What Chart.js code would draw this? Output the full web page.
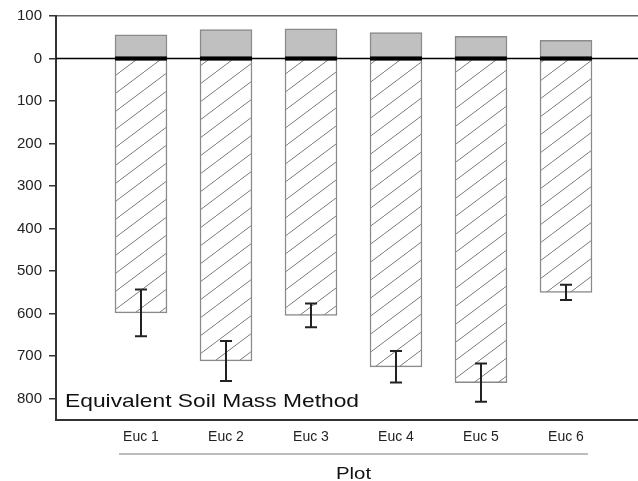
<!DOCTYPE html>
<html>
<head>
<meta charset="utf-8">
<script src="https://cdn.jsdelivr.net/npm/chart.js@4/dist/chart.umd.min.js"></script>
<style>
  body { margin: 0; background: #fff; }
  canvas { display: block; }
</style>
</head>
<body>
<canvas id="soilChart" width="638" height="481"></canvas>
<script>
// data
var plots = ['Euc 1', 'Euc 2', 'Euc 3', 'Euc 4', 'Euc 5', 'Euc 6']
var positions = [1, 2, 3, 4, 5, 6]
var upper_values = [56, 68, 70, 61, 52, 43]
var lower_values = [-598, -711, -604, -725, -762, -550]
var lower_errors = [55, 47, 28, 37, 45, 18]
var y_ticks = [100, 0, -100, -200, -300, -400, -500, -600, -700, -800]

var label_text = 'Equivalent Soil Mass Method'
var axis_title = 'Plot'

function make_hatch() {
    var c = document.createElement('canvas')
    c.width = 24
    c.height = 18
    var g = c.getContext('2d')
    g.fillStyle = '#fff'
    g.fillRect(0, 0, 24, 18)
    g.strokeStyle = '#7a7a7a'
    g.lineWidth = 1
    g.beginPath()
    g.moveTo(-2, 19.5)
    g.lineTo(26, -1.5)
    g.stroke()
    return g.createPattern(c, 'repeat')
}

function stretched_text(ctx, text, x, y, font, align) {
    ctx.save()
    ctx.font = font
    ctx.fillStyle = '#111'
    ctx.textBaseline = 'alphabetic'
    var w = ctx.measureText(text).width * 1.2
    var left = align == 'center' ? x - w / 2 : x
    ctx.translate(left, y)
    ctx.scale(1.2, 1)
    ctx.textAlign = 'left'
    ctx.fillText(text, 0, 0)
    ctx.restore()
}

var extras = {
    id: 'extras',
    afterDatasetsDraw: function(chart) {
        var ctx = chart.ctx
        var area = chart.chartArea
        var y = chart.scales.y
        var y0 = y.getPixelForValue(0)

        ctx.save()
        ctx.strokeStyle = '#000'
        ctx.lineWidth = 1.5
        ctx.beginPath()
        ctx.moveTo(area.left, y0)
        ctx.lineTo(area.right, y0)
        ctx.stroke()

        // thick base under the grey bars
        var top_bars = chart.getDatasetMeta(0).data
        ctx.lineWidth = 4
        for (bar of top_bars) {
            ctx.beginPath()
            ctx.moveTo(bar.x - bar.width / 2, y0)
            ctx.lineTo(bar.x + bar.width / 2, y0)
            ctx.stroke()
        }

        // error bars
        var low_bars = chart.getDatasetMeta(1).data
        ctx.strokeStyle = '#222'
        ctx.lineWidth = 2
        for (var i = 0; i < low_bars.length; i++) {
            var x = low_bars[i].x
            var a = y.getPixelForValue(lower_values[i] + lower_errors[i])
            var b = y.getPixelForValue(lower_values[i] - lower_errors[i])
            ctx.beginPath()
            ctx.moveTo(x, a)
            ctx.lineTo(x, b)
            ctx.moveTo(x - 6, a)
            ctx.lineTo(x + 6, a)
            ctx.moveTo(x - 6, b)
            ctx.lineTo(x + 6, b)
            ctx.stroke()
        }
        ctx.restore()
    },
    afterDraw: function(chart) {
        var ctx = chart.ctx
        var x = chart.scales.x
        stretched_text(ctx, label_text, 65, 407, '19px "Liberation Sans", Arial, sans-serif', 'left')

        ctx.save()
        ctx.strokeStyle = '#bdbdbd'
        ctx.lineWidth = 2
        ctx.beginPath()
        ctx.moveTo(119, 454)
        ctx.lineTo(588, 454)
        ctx.stroke()
        ctx.restore()

        stretched_text(ctx, axis_title, (x.getPixelForValue(1) + x.getPixelForValue(6)) / 2, 479, '17px "Liberation Sans", Arial, sans-serif', 'center')
    }
}

var hatch = make_hatch()

new Chart(document.getElementById('soilChart').getContext('2d'), {
    type: 'bar',
    data: {
        datasets: [
            {
                label: 'upper',
                data: positions.map((p, i) => ({x: p, y: upper_values[i]})),
                backgroundColor: '#c0c0c0',
                borderColor: '#8a8a8a',
                borderWidth: 1.5,
                borderSkipped: false,
                barThickness: 52,
                grouped: false
            },
            {
                label: 'lower',
                data: positions.map((p, i) => ({x: p, y: lower_values[i]})),
                backgroundColor: hatch,
                borderColor: '#8a8a8a',
                borderWidth: 1.5,
                borderSkipped: false,
                barThickness: 52,
                grouped: false
            }
        ]
    },
    options: {
        responsive: false,
        animation: false,
        layout: {
            padding: {top: 16, right: 0, bottom: 0, left: 0}
        },
        plugins: {
            legend: {display: false},
            tooltip: {enabled: false}
        },
        scales: {
            x: {
                type: 'linear',
                min: 0,
                max: 582 / 85,
                offset: false,
                afterBuildTicks: function(axis) {
                    axis.ticks = positions.map(p => ({value: p}))
                },
                afterFit: function(axis) {
                    axis.height = 61
                },
                grid: {display: false, drawTicks: false, offset: false},
                border: {display: true, color: '#333', width: 2},
                ticks: {
                    padding: 9,
                    color: '#222',
                    font: {family: '"Liberation Sans", Arial, sans-serif', size: 14},
                    callback: function(v) {
                        return plots[positions.indexOf(v)] || ''
                    }
                }
            },
            y: {
                min: -850,
                max: 100,
                afterBuildTicks: function(axis) {
                    axis.ticks = y_ticks.map(v => ({value: v}))
                },
                afterFit: function(axis) {
                    axis.width = 56
                },
                grid: {
                    drawOnChartArea: true,
                    color: ctx => (ctx.tick && ctx.tick.value === 100) ? '#666' : 'rgba(0,0,0,0)',
                    lineWidth: 1.5,
                    tickColor: '#333',
                    tickLength: 7,
                    tickWidth: 1.5
                },
                border: {display: true, color: '#333', width: 2},
                ticks: {
                    padding: 7,
                    color: '#222',
                    font: {family: '"Liberation Sans", Arial, sans-serif', size: 15},
                    callback: v => Math.abs(v)
                }
            }
        }
    },
    plugins: [extras]
});
</script>
</body>
</html>
